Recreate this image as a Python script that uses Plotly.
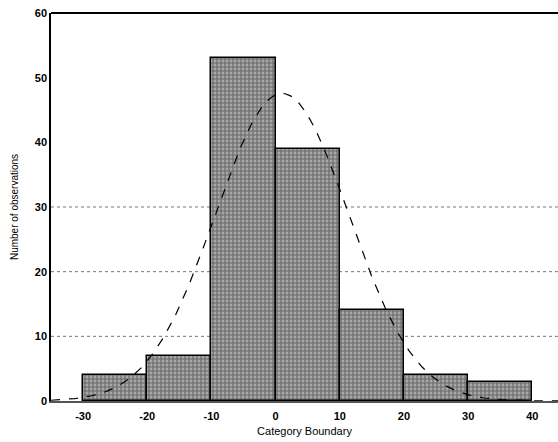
import numpy as np
import plotly.graph_objects as go

# histogram bins (left edges) and counts
bin_left = [-30, -20, -10, 0, 10, 20, 30]
counts = [4, 7, 53, 39, 14, 4, 3]
bin_width = 10

# fitted normal curve parameters
fit_mean = 1.0
fit_sd = 10.4

y_ticks = [0, 10, 20, 30, 40, 50, 60]
x_ticks = [-30, -20, -10, 0, 10, 20, 30, 40]
x_tick_text = ["-30", "-20", "-10", "0", "10", "20", "30", "40"]
grid_levels = [10, 20, 30]

centers = [b + bin_width / 2 for b in bin_left]
n_total = sum(counts)

xs = np.linspace(-35, 44, 300)
curve = n_total * bin_width * np.exp(-0.5 * ((xs - fit_mean) / fit_sd) ** 2) / (fit_sd * np.sqrt(2 * np.pi))

fig = go.Figure()
fig.add_trace(go.Bar(
    x=centers, y=counts, width=[bin_width] * len(counts),
    marker=dict(
        color="#a0a0a0",
        line=dict(color="black", width=1.5),
        pattern=dict(shape="+", fgcolor="#2a2a2a", bgcolor="#a8a8a8", size=4, solidity=0.5),
    ),
    showlegend=False,
))
fig.add_trace(go.Scatter(
    x=xs, y=curve, mode="lines",
    line=dict(color="black", width=1.2, dash="dash"),
    showlegend=False,
))

for g in grid_levels:
    fig.add_shape(type="line", xref="x", yref="y", x0=-35, x1=44, y0=g, y1=g,
                  line=dict(color="#777", width=1, dash="dot"), layer="below")

font_family = "Liberation Sans, Arial, sans-serif"
fig.update_layout(
    width=558, height=442,
    margin=dict(l=51, r=0, t=13, b=41),
    paper_bgcolor="white", plot_bgcolor="white",
    bargap=0,
    font=dict(family=font_family, color="black"),
    xaxis=dict(
        range=[-35, 44], tickvals=x_ticks, ticktext=x_tick_text, ticks="",
        showgrid=False, zeroline=False,
        showline=True, linecolor="#555", linewidth=2, mirror=False,
        tickfont=dict(size=11, family=font_family, weight="bold", color="black"),
        ticklabelstandoff=4,
        title=dict(text="Category Boundary", font=dict(size=11, color="black"), standoff=6),
    ),
    yaxis=dict(
        range=[0, 60], tickvals=y_ticks, ticks="", showgrid=False, zeroline=False,
        showline=True, linecolor="black", linewidth=1.5,
        tickfont=dict(size=11, family=font_family, weight="bold", color="black"),
        title=dict(text="Number of observations", font=dict(size=10, color="black"), standoff=14),
    ),
)
# top frame line
fig.add_shape(type="line", xref="paper", yref="paper", x0=0, x1=1, y0=1, y1=1,
              line=dict(color="black", width=2))

fig.write_html("out.html")
